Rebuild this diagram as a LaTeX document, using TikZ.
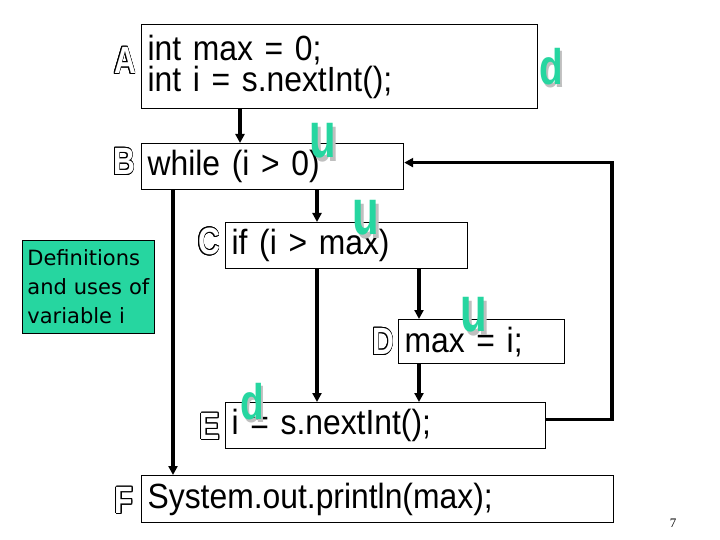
\documentclass[tikz,border=0pt]{standalone}
\usepackage{fontspec}
\setmainfont[FakeStretch=0.91]{Liberation Sans}
\newfontfamily\notefont{DejaVu Sans}
\newfontfamily\numfont{Liberation Serif}
\newfontfamily\tagfont[FakeStretch=0.8]{Liberation Sans}
\usepackage[copies]{contour}
\usepackage{xcolor}
\usepackage{tikz}
\usetikzlibrary{positioning,arrows.meta,calc}
\definecolor{mint}{RGB}{38,214,160}
\contourlength{0.9pt}
\newcommand{\hollow}[1]{\contour{black}{\textcolor{white}{#1}}}

\begin{document}
\begin{tikzpicture}[x=1pt, y=-1pt,
  stmt/.style={draw, line width=1.2pt, anchor=north west, inner xsep=6pt, inner ysep=0pt, align=left, font=\fontsize{35}{31}\selectfont},
  tag/.style={font=\tagfont\bfseries\fontsize{38}{38}\selectfont, inner sep=0pt},
  dmark/.style={font=\bfseries\fontsize{50}{50}\selectfont, text=mint, inner sep=0pt, xscale=0.85},
  umark/.style={font=\bfseries\fontsize{48}{48}\selectfont, text=mint, inner sep=0pt, yscale=1.35},
  shade/.style={text=black!25, xshift=2.5pt, yshift=-2.5pt},
  arr/.style={-{Triangle[length=9pt,width=9pt]}, line width=3.5pt}
]
\path[use as bounding box, fill=white] (0,0) rectangle (720,540);

% statements
\node[stmt, text width=384, minimum height=84] (a) at (141,24) {int max = 0;\\int i = s.nextInt();};
\node[stmt, text width=250, minimum height=46] (b) at (141,143) {while (i > 0)};
\node[stmt, text width=230, minimum height=46] (c) at (225,222) {if (i > max)};
\node[stmt, text width=154, minimum height=44] (d) at (398,319) {max = i;};
\node[stmt, text width=308, minimum height=46] (e) at (225,402) {i = s.nextInt();};
\node[stmt, text width=460, minimum height=47] (f) at (141,475) {System.out.println(max);};

% block letters
\node[tag] (ta) at (125,61) {\hollow{A}};
\node[tag] (tb) at (124,162) {\hollow{B}};
\node[tag] (tc) at (209,242) {\hollow{C}};
\node[tag] (td) at (383,342) {\hollow{D}};
\node[tag] (te) at (210,427) {\hollow{E}};
\node[tag] (tf) at (124,501) {\hollow{F}};

% columns of the edges
\coordinate (xab) at (240,0);
\coordinate (xbf) at (173,0);
\coordinate (xbc) at (317,0);
\coordinate (xcd) at (419,0);
\coordinate (xloop) at (612,0);

\draw[arr] (a.south -| xab) -- (b.north -| xab);
\draw[arr] (b.south -| xbf) -- (f.north -| xbf);
\draw[arr] (b.south -| xbc) -- (c.north -| xbc);
\draw[arr] (c.south -| xbc) -- (e.north -| xbc);
\draw[arr] (c.south -| xcd) -- (d.north -| xcd);
\draw[arr] (d.south -| xcd) -- (e.north -| xcd);
\draw[arr] ([yshift=6pt]e.east) -- ([yshift=6pt]e.east -| xloop) |- ([yshift=4pt]b.east);

% defs and uses of i
\node[dmark, shade] (dashade) at (551,67) {d};
\node[dmark] (da) at (551,67) {d};
\node[umark, shade] (ubshade) at (323,141) {u};
\node[umark] (ub) at (323,141) {u};
\node[umark, shade] (ucshade) at (366,218) {u};
\node[umark] (uc) at (366,218) {u};
\node[umark, shade] (udshade) at (474,315) {u};
\node[umark] (ud) at (474,315) {u};
\node[dmark, shade] (deshade) at (252,402) {d};
\node[dmark] (de) at (252,402) {d};

\node[draw, line width=0.8pt, fill=mint, anchor=north west, text width=122, minimum height=93, inner xsep=5pt, inner ysep=0pt, align=left, font=\notefont\fontsize{21}{29}\selectfont] (note) at (22,240) {Definitions\\and uses of\\variable i};

\node[font=\numfont\fontsize{13}{13}\selectfont] (page) at (673,523) {7};
\end{tikzpicture}
\end{document}
